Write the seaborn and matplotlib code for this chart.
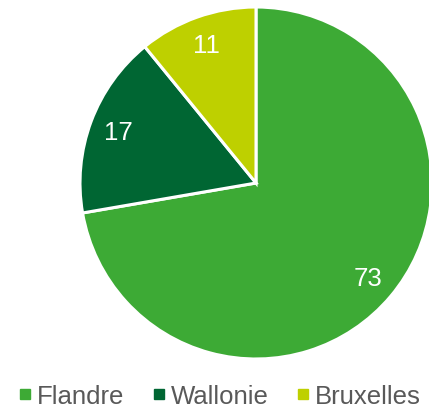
import matplotlib.pyplot as plt
import seaborn as sns
from matplotlib.lines import Line2D

regions = ["Flandre", "Wallonie", "Bruxelles"]
values = [73, 17, 11]
colors = ["#3DAA35", "#006633", "#BED000"]

sns.set_theme(style="white")
plt.rcParams['font.family'] = ['Liberation Sans', 'DejaVu Sans']

fig = plt.figure(figsize=(4.29, 4.10), dpi=100)
ax = fig.add_axes([80 / 429, 50 / 410, 352 / 429, 352 / 410])

labels_iter = iter(values)
wedges, texts, autotexts = ax.pie(
    values, colors=colors, startangle=90, counterclock=False,
    autopct=lambda p: str(next(labels_iter)), pctdistance=0.835,
    wedgeprops=dict(edgecolor="white", linewidth=2.2, clip_on=False),
    textprops=dict(color="white", fontsize=18.5),
)
ax.set_xlim(-1, 1)
ax.set_ylim(-1, 1)
ax.set_aspect("equal")

handles = [Line2D([0], [0], marker="s", linestyle="", markersize=7,
                  markerfacecolor=c, markeredgecolor=c) for c in colors]
fig.legend(handles, regions, loc="center left", bbox_to_anchor=(0.045, 0.032),
           ncol=3, frameon=False, fontsize=18.5, labelcolor="#595959",
           handletextpad=0.25, columnspacing=1.1, handlelength=0.45,
           borderpad=0, borderaxespad=0)

fig.savefig("out.png", dpi=100)
